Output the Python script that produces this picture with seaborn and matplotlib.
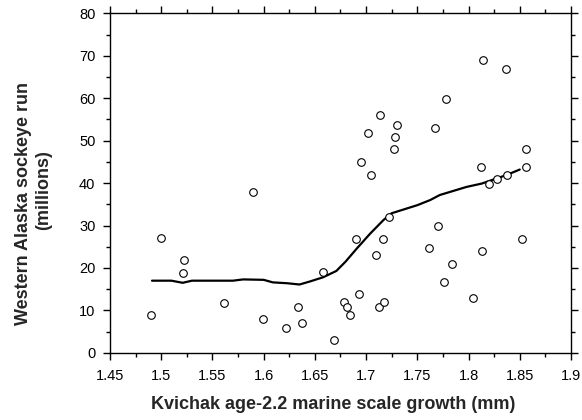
import matplotlib
matplotlib.use("Agg")
import matplotlib.pyplot as plt
import seaborn as sns
import pandas as pd
from matplotlib.ticker import MultipleLocator

# Scatter data (marine scale growth, run size)
growth = [1.814, 1.837, 1.714, 1.730, 1.702, 1.728, 1.727, 1.778, 1.767, 1.695,
          1.705, 1.812, 1.856, 1.856, 1.820, 1.828, 1.838,
          1.590, 1.4995, 1.5226, 1.5216, 1.4897, 1.5617, 1.5997, 1.6216, 1.6336, 1.6375,
          1.658, 1.669, 1.6788, 1.6814, 1.684, 1.6935, 1.690, 1.7095, 1.7169, 1.7228,
          1.713, 1.7173, 1.7703, 1.7618, 1.7837, 1.7765, 1.813, 1.8045, 1.852]
run = [69.0, 66.9, 56.0, 53.8, 51.8, 50.9, 48.0, 59.8, 53.0, 45.0,
       42.0, 43.8, 48.0, 43.8, 39.9, 40.9, 42.0,
       37.8, 27.0, 21.9, 18.9, 8.8, 11.8, 7.9, 5.9, 10.9, 7.1,
       19.0, 3.0, 11.9, 10.9, 8.9, 13.9, 26.9, 23.1, 26.9, 32.1,
       10.9, 11.9, 29.9, 24.8, 21.0, 16.8, 24.0, 13.0, 26.9]

# Smoothed fit line
fit_x = [1.491, 1.51, 1.521, 1.53, 1.57, 1.58, 1.60, 1.609, 1.623, 1.635, 1.645,
         1.658, 1.671, 1.68, 1.691, 1.704, 1.717, 1.725, 1.75, 1.7625, 1.772,
         1.798, 1.813, 1.837, 1.850]
fit_y = [17.0, 17.0, 16.5, 17.0, 17.0, 17.3, 17.2, 16.6, 16.4, 16.1, 16.8,
         17.8, 19.3, 21.5, 24.6, 28.1, 31.3, 32.9, 34.8, 36.0, 37.2,
         39.1, 39.9, 41.9, 43.2]

x_ticks = [1.45, 1.5, 1.55, 1.6, 1.65, 1.7, 1.75, 1.8, 1.85, 1.9]
x_tick_labels = ["1.45", "1.5", "1.55", "1.6", "1.65", "1.7", "1.75", "1.8", "1.85", "1.9"]

sns.set_style("ticks")
plt.rcParams['font.family'] = ['Liberation Sans', 'DejaVu Sans']

fig = plt.figure(figsize=(5.82, 4.2), dpi=100)
ax = fig.add_axes([0.189, 0.160, 0.792, 0.808])

pts = pd.DataFrame({"growth": growth, "run": run})
line = pd.DataFrame({"x": fit_x, "y": fit_y})

sns.lineplot(data=line, x="x", y="y", ax=ax, color="black", linewidth=1.6,
             sort=False, zorder=2)
sns.scatterplot(data=pts, x="growth", y="run", ax=ax, marker="o", s=30,
                facecolor="white", edgecolor="black", linewidth=0.8, zorder=3)

ax.set_xlim(1.45, 1.9)
ax.set_ylim(0, 80)
ax.set_xticks(x_ticks)
ax.set_xticklabels(x_tick_labels)
ax.xaxis.set_minor_locator(MultipleLocator(0.025))
ax.yaxis.set_major_locator(MultipleLocator(10))
ax.yaxis.set_minor_locator(MultipleLocator(5))

for s in ax.spines.values():
    s.set_visible(True)
    s.set_linewidth(1.0)
    s.set_color("black")

ax.tick_params(which="both", direction="out", top=True, right=True,
               labeltop=False, labelright=False, colors="black",
               labelsize=10.5, width=1.0)
ax.tick_params(which="major", length=5)
ax.tick_params(which="minor", length=3)
ax.tick_params(axis="x", which="major", pad=6.5)
ax.tick_params(axis="y", which="major", pad=5.5)

ax.set_xlabel("Kvichak age-2.2 marine scale growth (mm)", fontsize=13,
              fontweight="bold")
ax.xaxis.set_label_coords(0.484, -0.128)
ax.set_ylabel("")
ax.text(-0.1866, 0.441, "Western Alaska sockeye run", transform=ax.transAxes,
        rotation=90, ha="center", va="center", fontsize=13, fontweight="bold")
ax.text(-0.1443, 0.479, "(millions)", transform=ax.transAxes,
        rotation=90, ha="center", va="center", fontsize=13, fontweight="bold")

fig.savefig("out.png", dpi=100)
